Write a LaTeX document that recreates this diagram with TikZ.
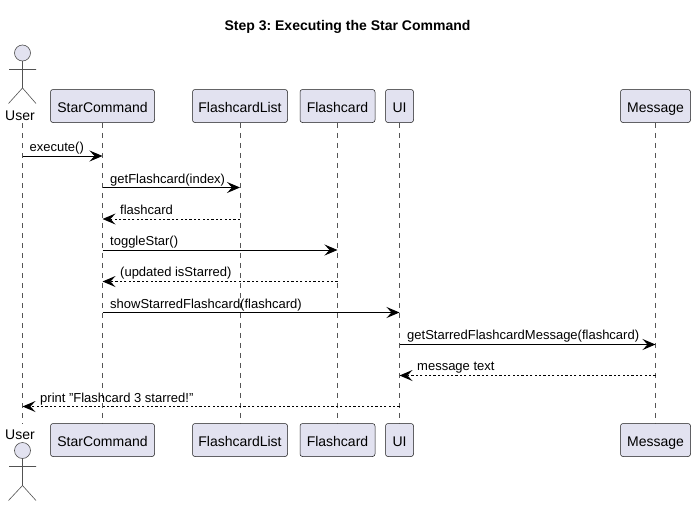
\documentclass[tikz,border=0pt]{standalone}
\usepackage{fontspec}
\setmainfont{Liberation Sans}
\usetikzlibrary{arrows.meta}
\definecolor{boxfill}{HTML}{E2E2F0}
\definecolor{boxline}{HTML}{181818}
\definecolor{lifeline}{HTML}{555555}
\tikzset{
  part/.style={draw=boxline,fill=boxfill,line width=0.5pt,rounded corners=2.5pt,minimum height=33pt,inner sep=0pt,text height=12pt,text depth=0pt,font=\fontsize{14}{16}\selectfont,text=black},
  life/.style={draw=lifeline,line width=0.5pt,dash pattern=on 5pt off 5pt},
  sync/.style={draw=black,line width=1pt,-{Stealth[length=13pt,width=11pt,inset=5pt]}},
  reply/.style={draw=black,line width=0.9pt,dash pattern=on 2.2pt off 2.2pt,-{Stealth[length=13pt,width=11pt,inset=5pt,line width=0pt]}},
  lab/.style={font=\fontsize{13}{15}\selectfont,text=black,inner sep=0pt,anchor=base west},
  actorshape/.style={draw=boxline!75,line width=0.6pt},
  actorname/.style={font=\fontsize{14}{16}\selectfont,text=black,inner sep=0pt,anchor=base},
}
\begin{document}
\frenchspacing
\begin{tikzpicture}[x=1pt,y=-1pt]
\useasboundingbox (0,0) rectangle (696,506);
\fill[white] (0,0) rectangle (696,506);
\node[font=\fontsize{14}{16}\selectfont\bfseries,inner sep=0pt,anchor=base] (title) at (347.5,30) {Step 3: Executing the Star Command};

% participants, top row
\coordinate (u) at (22.5,123);
\node[part,minimum width=104pt] (sc) at (102.5,106) {StarCommand};
\node[part,minimum width=95pt] (fl) at (240,106) {FlashcardList};
\node[part,minimum width=75pt] (f) at (337.5,106) {Flashcard};
\node[part,minimum width=28pt] (ui) at (399.5,106) {UI};
\node[part,minimum width=70pt] (m) at (655.5,106) {Message};
% bottom row
\coordinate (ub) at (22.5,423.5);
\node[part,minimum width=104pt] (scb) at (102.5,440) {StarCommand};
\node[part,minimum width=95pt] (flb) at (240,440) {FlashcardList};
\node[part,minimum width=75pt] (fb) at (337.5,440) {Flashcard};
\node[part,minimum width=28pt] (uib) at (399.5,440) {UI};
\node[part,minimum width=70pt] (mb) at (655.5,440) {Message};

% lifelines
\draw[life] (u) -- (ub);
\draw[life] (sc) -- (scb);
\draw[life] (fl) -- (flb);
\draw[life] (f) -- (fb);
\draw[life] (ui) -- (uib);
\draw[life] (m) -- (mb);

% actors
\node[actorname] (un) at (20,120) {User};
\draw[actorshape,fill=boxfill] (22.5,53) circle (8pt);
\draw[actorshape] (22.5,61) -- (22.5,88) (9,69.5) -- (36,69.5) (8.5,103.5) -- (22.5,88) -- (36,103.5);
\node[actorname] (unb) at (20,439) {User};
\draw[actorshape,fill=boxfill] (22.5,450.5) circle (8pt);
\draw[actorshape] (22.5,458.5) -- (22.5,485.5) (9,466.5) -- (36,466.5) (8.5,500.5) -- (22.5,485.5) -- (36,500.5);

% messages
\draw[sync] (u |- 0,156) -- (sc |- 0,156);
\node[lab] at (29.5,151) {execute()};
\draw[sync] (sc |- 0,187.5) -- (fl |- 0,187.5);
\node[lab] at (110,183) {getFlashcard(index)};
\draw[reply] (fl |- 0,219) -- (sc |- 0,219);
\node[lab] at (120,214) {flashcard};
\draw[sync] (sc |- 0,250) -- (f |- 0,250);
\node[lab] at (110,245.5) {toggleStar()};
\draw[reply] (f |- 0,281.5) -- (sc |- 0,281.5);
\node[lab] at (120,276.5) {(updated isStarred)};
\draw[sync] (sc |- 0,312.5) -- (ui |- 0,312.5);
\node[lab] at (110,308) {showStarredFlashcard(flashcard)};
\draw[sync] (ui |- 0,344.5) -- (m |- 0,344.5);
\node[lab] at (407,339.5) {getStarredFlashcardMessage(flashcard)};
\draw[reply] (m |- 0,375.5) -- (ui |- 0,375.5);
\node[lab] at (417,370.5) {message text};
\draw[reply] (ui |- 0,406.5) -- (u |- 0,406.5);
\node[lab] at (40,402) {print \symbol{34}Flashcard 3 starred!\symbol{34}};
\end{tikzpicture}
\end{document}
